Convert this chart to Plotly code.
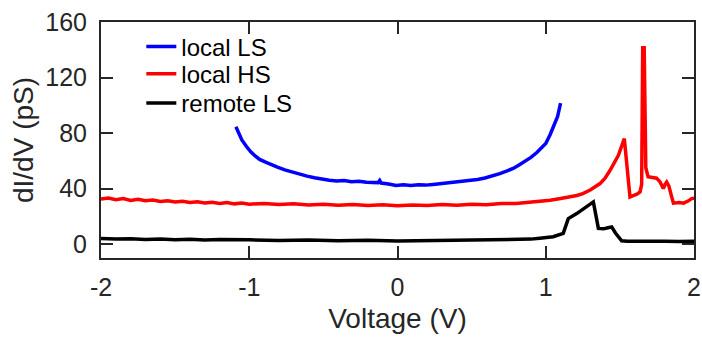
import plotly.graph_objects as go

# ---- data ----
local_ls_v = [-1.09, -1.07, -1.05, -1.02, -0.99, -0.96, -0.93, -0.89, -0.85, -0.81,
              -0.76, -0.71, -0.66, -0.61, -0.56, -0.51, -0.46, -0.41, -0.36, -0.31,
              -0.26, -0.21, -0.16, -0.13, -0.12, -0.11, -0.06, -0.01, 0.04, 0.09,
              0.14, 0.19, 0.24, 0.29, 0.34, 0.39, 0.44, 0.49, 0.54, 0.59,
              0.64, 0.69, 0.74, 0.78, 0.82, 0.86, 0.90, 0.94, 0.97, 1.00,
              1.03, 1.06, 1.08, 1.10]
local_ls_g = [84.5, 79.0, 75.0, 70.5, 66.5, 63.5, 61.0, 59.0, 57.0, 55.5,
              53.5, 51.8, 50.3, 49.0, 47.8, 46.8, 46.0, 45.5, 45.8, 45.0,
              45.3, 44.5, 44.2, 44.3, 45.8, 44.0, 43.3, 42.2, 42.7, 42.2,
              42.8, 42.5, 43.0, 43.5, 44.0, 44.4, 45.0, 45.8, 46.5, 47.6,
              49.0, 50.8, 52.8, 54.5, 57.0, 59.5, 62.5, 66.0, 69.0, 72.5,
              79.0, 86.0, 92.0, 101.5]

local_hs_v = [-2.00, -1.95, -1.90, -1.85, -1.80, -1.75, -1.70, -1.65, -1.60, -1.55,
              -1.50, -1.45, -1.40, -1.35, -1.30, -1.25, -1.20, -1.15, -1.10, -1.05,
              -1.00, -0.90, -0.80, -0.70, -0.60, -0.50, -0.40, -0.30, -0.20, -0.10,
              0.00, 0.10, 0.20, 0.30, 0.40, 0.50, 0.60, 0.70, 0.80, 0.90,
              0.96, 1.03, 1.10, 1.16, 1.21, 1.25, 1.30, 1.366, 1.40, 1.433,
              1.46, 1.49, 1.53, 1.568, 1.59, 1.615, 1.636, 1.647, 1.654, 1.664,
              1.675, 1.69, 1.72, 1.748, 1.77, 1.793, 1.805, 1.816, 1.83, 1.861,
              1.90, 1.93, 1.96, 1.984, 2.00]
local_hs_g = [32.5, 33.2, 32.0, 32.8, 31.5, 32.3, 31.2, 31.8, 30.7, 31.3,
              30.3, 30.9, 30.0, 30.5, 29.6, 30.2, 29.3, 29.9, 29.0, 29.6,
              28.8, 29.3, 28.5, 29.0, 28.2, 28.7, 28.0, 28.5, 27.8, 28.3,
              27.6, 28.2, 27.9, 28.5, 28.0, 28.8, 28.4, 29.3, 29.2, 30.2,
              30.4, 31.6, 32.8, 33.8, 35.0, 36.4, 39.0, 43.6, 47.5, 53.0,
              58.0, 64.0, 76.0, 34.0, 35.0, 36.0, 37.6, 43.0, 141.5, 141.5,
              55.0, 48.5, 48.0, 47.5, 45.0, 40.0, 43.0, 44.7, 42.0, 29.5,
              30.0, 29.5, 31.0, 32.8, 33.0]

remote_ls_v = [-2.00, -1.90, -1.80, -1.70, -1.60, -1.50, -1.40, -1.30, -1.20, -1.10,
               -1.00, -0.80, -0.60, -0.40, -0.20, 0.00, 0.20, 0.40, 0.60, 0.80,
               0.90, 0.96, 1.05, 1.118, 1.152, 1.209, 1.26, 1.321, 1.355, 1.39,
               1.42, 1.445, 1.47, 1.512, 1.55, 1.60, 1.70, 1.80, 1.90, 2.00]
remote_ls_g = [4.1, 3.6, 3.9, 3.3, 3.6, 3.2, 3.5, 3.0, 3.3, 2.9,
               3.1, 2.6, 2.9, 2.4, 2.7, 2.3, 2.6, 2.5, 2.8, 3.2,
               3.6, 4.2, 5.3, 7.7, 18.4, 22.0, 26.0, 30.4, 11.3, 11.0,
               11.8, 12.4, 8.0, 2.4, 2.0, 2.1, 1.8, 2.0, 1.8, 2.0]

series_names = ["local LS", "local HS", "remote LS"]
series_colors = ["#0000FF", "#FF0000", "#000000"]

x_ticks = [-2, -1, 0, 1, 2]
y_ticks = [0, 40, 80, 120, 160]

FONT = "Arial, Liberation Sans, sans-serif"
AX = "#262626"

legend_ids = ["legend", "legend2", "legend3"]
legend_rows = [0.894, 0.779, 0.655]

fig = go.Figure()
for v, g, name, col, lid in zip([local_ls_v, local_hs_v, remote_ls_v],
                                [local_ls_g, local_hs_g, remote_ls_g],
                                series_names, series_colors, legend_ids):
    fig.add_trace(go.Scatter(x=v, y=g, mode="lines", name=name, legend=lid,
                             line=dict(color=col, width=3.5)))

leg_common = dict(x=0.068, xanchor="left", yanchor="middle",
                  bgcolor="rgba(0,0,0,0)", font=dict(size=24, color="#000000"))
fig.update_layout(
    width=702, height=337,
    margin=dict(l=101, r=8, t=22, b=79),
    paper_bgcolor="white", plot_bgcolor="white",
    font=dict(family=FONT, color=AX, size=24),
    showlegend=True,
    legend=dict(y=legend_rows[0], **leg_common),
    legend2=dict(y=legend_rows[1], **leg_common),
    legend3=dict(y=legend_rows[2], **leg_common),
)
fig.update_xaxes(
    range=[-2, 2], tickvals=x_ticks, ticktext=[str(t) for t in x_ticks],
    showline=True, linecolor=AX, linewidth=2, mirror="ticks",
    ticks="inside", ticklen=12, tickwidth=1.5, tickcolor=AX,
    showgrid=False, zeroline=False, automargin=False,
    tickfont=dict(size=25, color=AX), ticklabelstandoff=6,
    title=dict(text="Voltage (V)", font=dict(size=28, color=AX), standoff=8),
)
fig.update_yaxes(
    range=[-10, 160], tickvals=y_ticks, ticktext=[str(t) for t in y_ticks],
    showline=True, linecolor=AX, linewidth=2, mirror="ticks",
    ticks="inside", ticklen=12, tickwidth=1.5, tickcolor=AX,
    showgrid=False, zeroline=False, automargin=False,
    tickfont=dict(size=25, color=AX), ticklabelstandoff=7,
    title=dict(text="dI/dV (pS)", font=dict(size=28, color=AX), standoff=3),
)

fig.write_html("out.html")
